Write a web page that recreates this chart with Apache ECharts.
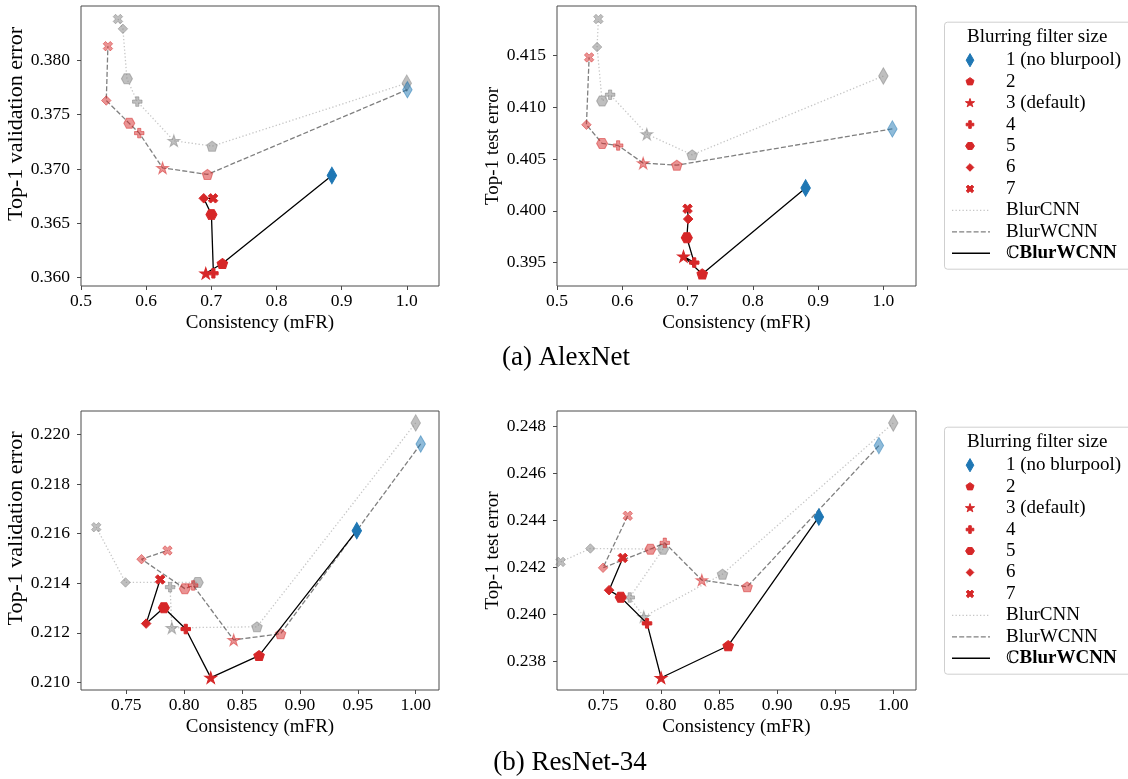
<!DOCTYPE html>
<html>
<head>
<meta charset="utf-8">
<script src="https://cdn.jsdelivr.net/npm/echarts@6/dist/echarts.min.js"></script>
<style>
  html, body { margin: 0; padding: 0; background: #fff; }
  #chart { width: 1128px; height: 779px; }
</style>
</head>
<body>
<div id="chart"></div>
<script>
// Legend labels, one per blurring filter size (1..7)
const filterSizes = ['1 (no blurpool)', '2', '3 (default)', '4', '5', '6', '7'];
const methodNames = ['BlurCNN', 'BlurWCNN', 'ℂBlurWCNN'];

// Points are [consistency (mFR), top-1 error], ordered by filter size 1..7
// AlexNet, validation error
const alexValBlurCNN  = [[1.000, 0.3779], [0.7012, 0.3721], [0.6425, 0.3726], [0.5864, 0.3762], [0.5705, 0.3783], [0.5643, 0.3829], [0.5567, 0.3838]];
const alexValBlurWCNN = [[1.001, 0.3773], [0.6941, 0.3695], [0.6252, 0.3701], [0.5894, 0.3733], [0.5741, 0.3742], [0.5388, 0.3763], [0.5413, 0.3813]];
const alexValCBlurWCNN = [[0.8851, 0.3694], [0.7170, 0.3613], [0.6915, 0.3604], [0.7032, 0.3604], [0.7002, 0.3658], [0.6884, 0.3673], [0.7027, 0.3673]];

// AlexNet, test error
const alexTestBlurCNN  = [[1.000, 0.4130], [0.7071, 0.4054], [0.6376, 0.4074], [0.5814, 0.4112], [0.5691, 0.4106], [0.5614, 0.4158], [0.5634, 0.4185]];
const alexTestBlurWCNN = [[1.0138, 0.4079], [0.6836, 0.4044], [0.6320, 0.4046], [0.5937, 0.4063], [0.5691, 0.4065], [0.5451, 0.4083], [0.5492, 0.4148]];
const alexTestCBlurWCNN = [[0.8809, 0.4022], [0.7225, 0.3939], [0.6938, 0.3956], [0.7102, 0.3950], [0.6989, 0.3974], [0.7010, 0.3992], [0.7000, 0.4002]];

// ResNet-34, validation error
const resValBlurCNN  = [[1.000, 0.22047], [0.8629, 0.21224], [0.7894, 0.21220], [0.7879, 0.21384], [0.8118, 0.21403], [0.7494, 0.21403], [0.7241, 0.21626]];
const resValBlurWCNN = [[1.0043, 0.21962], [0.8833, 0.21196], [0.8428, 0.21171], [0.8078, 0.21391], [0.8006, 0.21378], [0.7632, 0.21497], [0.7856, 0.21532]];
const resValCBlurWCNN = [[0.9491, 0.21612], [0.8647, 0.21108], [0.8230, 0.21019], [0.8014, 0.21215], [0.7825, 0.21301], [0.7672, 0.21237], [0.7793, 0.21415]];

// ResNet-34, test error
const resTestBlurCNN  = [[1.000, 0.24814], [0.8529, 0.24172], [0.7851, 0.23991], [0.7730, 0.24073], [0.8017, 0.24278], [0.7391, 0.24281], [0.7135, 0.24224]];
const resTestBlurWCNN = [[0.9876, 0.24718], [0.8741, 0.24118], [0.8351, 0.24147], [0.8032, 0.24305], [0.7908, 0.24278], [0.7500, 0.24199], [0.7713, 0.24420]];
const resTestCBlurWCNN = [[0.9359, 0.24415], [0.8578, 0.23868], [0.8000, 0.23732], [0.7879, 0.23963], [0.7652, 0.24074], [0.7552, 0.24104], [0.7670, 0.24241]];

// Tick values
const alexXTicks = [0.5, 0.6, 0.7, 0.8, 0.9, 1.0];
const alexValYTicks = [0.360, 0.365, 0.370, 0.375, 0.380];
const alexTestYTicks = [0.395, 0.400, 0.405, 0.410, 0.415];
const resXTicks = [0.75, 0.80, 0.85, 0.90, 0.95, 1.00];
const resValYTicks = [0.210, 0.212, 0.214, 0.216, 0.218, 0.220];
const resTestYTicks = [0.238, 0.240, 0.242, 0.244, 0.246, 0.248];

const captions = ['(a) AlexNet', '(b) ResNet-34'];

// ---------------------------------------------------------------
const SERIF = 'Liberation Serif';
const BLUE = '#1f77b4';
const RED = '#d62728';

// Marker outlines as polygons in a 100x100 box
const Q_DIAMOND = [[50, 0], [100, 50], [50, 100], [0, 50]];
const Q_PENTAGON = [[50, 0], [97.55, 34.55], [79.39, 90.45], [20.61, 90.45], [2.45, 34.55]];
const Q_STAR = [[50, 0], [61.23, 34.55], [97.55, 34.55], [68.16, 55.9], [79.39, 90.45], [50, 69.1],
                [20.61, 90.45], [31.84, 55.9], [2.45, 34.55], [38.77, 34.55]];
const Q_PLUS = [[33.3, 0], [66.7, 0], [66.7, 33.3], [100, 33.3], [100, 66.7], [66.7, 66.7], [66.7, 100],
                [33.3, 100], [33.3, 66.7], [0, 66.7], [0, 33.3], [33.3, 33.3]];
const Q_HEXAGON = [[0, 50], [25, 6.7], [75, 6.7], [100, 50], [75, 93.3], [25, 93.3]];
const Q_XFILLED = [[75, 0], [100, 25], [75, 50], [100, 75], [75, 100], [50, 75], [25, 100], [0, 75],
                   [25, 50], [0, 25], [25, 0], [50, 25]];

const MARKERS = [
  { pts: Q_DIAMOND, size: [9.5, 16.5] },
  { pts: Q_PENTAGON, size: [10.5, 10] },
  { pts: Q_STAR, size: [12, 11.5] },
  { pts: Q_PLUS, size: [9.5, 9.5] },
  { pts: Q_HEXAGON, size: [11, 10] },
  { pts: Q_DIAMOND, size: [9.5, 9.5] },
  { pts: Q_XFILLED, size: [9.5, 9.5] }
];

function toPath(pts) {
  return 'path://M' + pts.map(p => p[0] + ',' + p[1]).join(' L') + ' Z';
}

function rgba(hex, a) {
  const n = parseInt(hex.slice(1), 16);
  return `rgba(${(n >> 16) & 255},${(n >> 8) & 255},${n & 255},${a})`;
}

const METHOD_STYLE = [
  { // BlurCNN
    fill: k => 'rgba(128,128,128,0.5)',
    line: { color: '#c6c6c6', width: 1.3, type: [1.3, 2.2] },
    z: 2
  },
  { // BlurWCNN
    fill: k => rgba(k === 0 ? BLUE : RED, 0.5),
    line: { color: 'rgba(0,0,0,0.5)', width: 1.3, type: [5, 2.2] },
    z: 3
  },
  { // CBlurWCNN
    fill: k => (k === 0 ? BLUE : RED),
    line: { color: '#000', width: 1.3, type: 'solid' },
    z: 4
  }
];

function makeSeries(points, methodIdx, gridIdx) {
  const st = METHOD_STYLE[methodIdx];
  return {
    type: 'line',
    name: methodNames[methodIdx],
    xAxisIndex: gridIdx,
    yAxisIndex: gridIdx,
    z: st.z,
    silent: true,
    animation: false,
    showSymbol: true,
    lineStyle: st.line,
    emphasis: { disabled: true },
    data: points.map((p, k) => ({
      value: p,
      symbol: toPath(MARKERS[k].pts),
      symbolSize: MARKERS[k].size,
      itemStyle: { color: st.fill(k), borderColor: st.fill(k), borderWidth: 1 }
    }))
  };
}

const grids = [
  { left: 81, top: 6, width: 358, height: 280 },
  { left: 557, top: 6, width: 359, height: 280 },
  { left: 81, top: 411, width: 358, height: 279 },
  { left: 557, top: 411, width: 359, height: 279 }
];

const FRAME = '#4a4a4a';

function xAxisFor(gridIdx, min, max, ticks, digits) {
  return {
    type: 'value', gridIndex: gridIdx, min, max,
    name: 'Consistency (mFR)', nameLocation: 'middle', nameGap: 28,
    nameTextStyle: { fontFamily: SERIF, fontSize: 19, color: '#000' },
    axisLine: { show: false },
    splitLine: { show: false },
    axisTick: { show: true, inside: false, length: 4, customValues: ticks, lineStyle: { color: FRAME, width: 1 } },
    axisLabel: { customValues: ticks, margin: 6, fontFamily: SERIF, fontSize: 17.5, color: '#000',
                 formatter: v => v.toFixed(digits) }
  };
}

// nameStyle: {size, gap, shift} — shift moves the title up along the axis
function yAxisFor(gridIdx, min, max, ticks, name, nameStyle) {
  return {
    type: 'value', gridIndex: gridIdx, min, max,
    name, nameLocation: 'middle', nameGap: nameStyle.gap, nameRotate: 90,
    nameTextStyle: { fontFamily: SERIF, fontSize: nameStyle.size, color: '#000',
                     padding: [0, 0, 0, 2 * nameStyle.shift] },
    axisLine: { show: false },
    splitLine: { show: false },
    axisTick: { show: true, inside: false, length: 4, customValues: ticks, lineStyle: { color: FRAME, width: 1 } },
    axisLabel: { customValues: ticks, margin: 11, fontFamily: SERIF, fontSize: 17.5, color: '#000',
                 formatter: v => v.toFixed(3) }
  };
}

const VAL_TITLE = { size: 22, gap: 50, shift: 22 };
const TEST_TITLE = { size: 19, gap: 53, shift: 0 };

// Legend box drawn with graphic elements
function legendGraphics(top) {
  const els = [];
  els.push({
    type: 'rect', z: 100,
    shape: { x: 944.5, y: top + 0.5, width: 200, height: 247, r: 3 },
    style: { fill: '#fff', stroke: '#cfcfcf', lineWidth: 1 }
  });
  els.push({
    type: 'text', z: 101,
    style: { text: 'Blurring filter size', x: 967, y: top + 15, fontFamily: SERIF, fontSize: 19,
             fill: '#000', textVerticalAlign: 'middle' }
  });
  const rowY = k => top + 38.5 + k * 21.45;
  for (let k = 0; k < 7; k++) {
    const w = MARKERS[k].size[0] * 0.8, h = MARKERS[k].size[1] * 0.8;
    const c = k === 0 ? BLUE : RED;
    const cx = 970, cy = rowY(k);
    els.push({
      type: 'polygon', z: 101,
      shape: { points: MARKERS[k].pts.map(p => [cx - w / 2 + p[0] * w / 100, cy - h / 2 + p[1] * h / 100]) },
      style: { fill: c, stroke: c, lineWidth: 1 }
    });
    els.push({
      type: 'text', z: 101,
      style: { text: filterSizes[k], x: 1006, y: cy, fontFamily: SERIF, fontSize: 19,
               fill: '#000', textVerticalAlign: 'middle' }
    });
  }
  for (let m = 0; m < 3; m++) {
    const y = rowY(7 + m);
    const ls = METHOD_STYLE[m].line;
    els.push({
      type: 'line', z: 101,
      shape: { x1: 952, y1: y, x2: 990, y2: y },
      style: { stroke: ls.color, lineWidth: ls.width, lineDash: Array.isArray(ls.type) ? ls.type : null }
    });
    if (m < 2) {
      els.push({
        type: 'text', z: 101,
        style: { text: methodNames[m], x: 1006, y, fontFamily: SERIF, fontSize: 19,
                 fill: '#000', textVerticalAlign: 'middle' }
      });
    } else {
      els.push({
        type: 'text', z: 101,
        style: {
          text: '{n|ℂ}{b|BlurWCNN}', x: 1006, y, fill: '#000', textVerticalAlign: 'middle',
          rich: {
            n: { fontFamily: 'DejaVu Serif', fontSize: 17, fill: '#000' },
            b: { fontFamily: SERIF, fontSize: 19, fontWeight: 'bold', fill: '#000' }
          }
        }
      });
    }
  }
  return els;
}

const captionGraphics = [
  { type: 'text', style: { text: captions[0], x: 566, y: 358, fontFamily: SERIF, fontSize: 27,
      fill: '#000', textAlign: 'center', textVerticalAlign: 'middle' } },
  { type: 'text', style: { text: captions[1], x: 570, y: 763, fontFamily: SERIF, fontSize: 27,
      fill: '#000', textAlign: 'center', textVerticalAlign: 'middle' } }
];

const option = {
  animation: false,
  backgroundColor: '#fff',
  grid: grids.map(g => Object.assign({ show: true, borderColor: FRAME, borderWidth: 1, backgroundColor: 'transparent' }, g)),
  xAxis: [
    xAxisFor(0, 0.5, 1.0495, alexXTicks, 1),
    xAxisFor(1, 0.5, 1.050, alexXTicks, 1),
    xAxisFor(2, 0.71095, 1.0201, resXTicks, 2),
    xAxisFor(3, 0.71035, 1.01957, resXTicks, 2)
  ],
  yAxis: [
    yAxisFor(0, 0.35923, 0.38500, alexValYTicks, 'Top-1 validation error', VAL_TITLE),
    yAxisFor(1, 0.39274, 0.41976, alexTestYTicks, 'Top-1 test error', TEST_TITLE),
    yAxisFor(2, 0.20969, 0.22095, resValYTicks, 'Top-1 validation error', VAL_TITLE),
    yAxisFor(3, 0.2368, 0.24865, resTestYTicks, 'Top-1 test error', TEST_TITLE)
  ],
  series: [
    makeSeries(alexValBlurCNN, 0, 0), makeSeries(alexValBlurWCNN, 1, 0), makeSeries(alexValCBlurWCNN, 2, 0),
    makeSeries(alexTestBlurCNN, 0, 1), makeSeries(alexTestBlurWCNN, 1, 1), makeSeries(alexTestCBlurWCNN, 2, 1),
    makeSeries(resValBlurCNN, 0, 2), makeSeries(resValBlurWCNN, 1, 2), makeSeries(resValCBlurWCNN, 2, 2),
    makeSeries(resTestBlurCNN, 0, 3), makeSeries(resTestBlurWCNN, 1, 3), makeSeries(resTestCBlurWCNN, 2, 3)
  ],
  graphic: [].concat(legendGraphics(21.7), legendGraphics(426.7), captionGraphics)
};

const chart = echarts.init(document.getElementById('chart'), null, { renderer: 'canvas' });
chart.setOption(option);
</script>
</body>
</html>
